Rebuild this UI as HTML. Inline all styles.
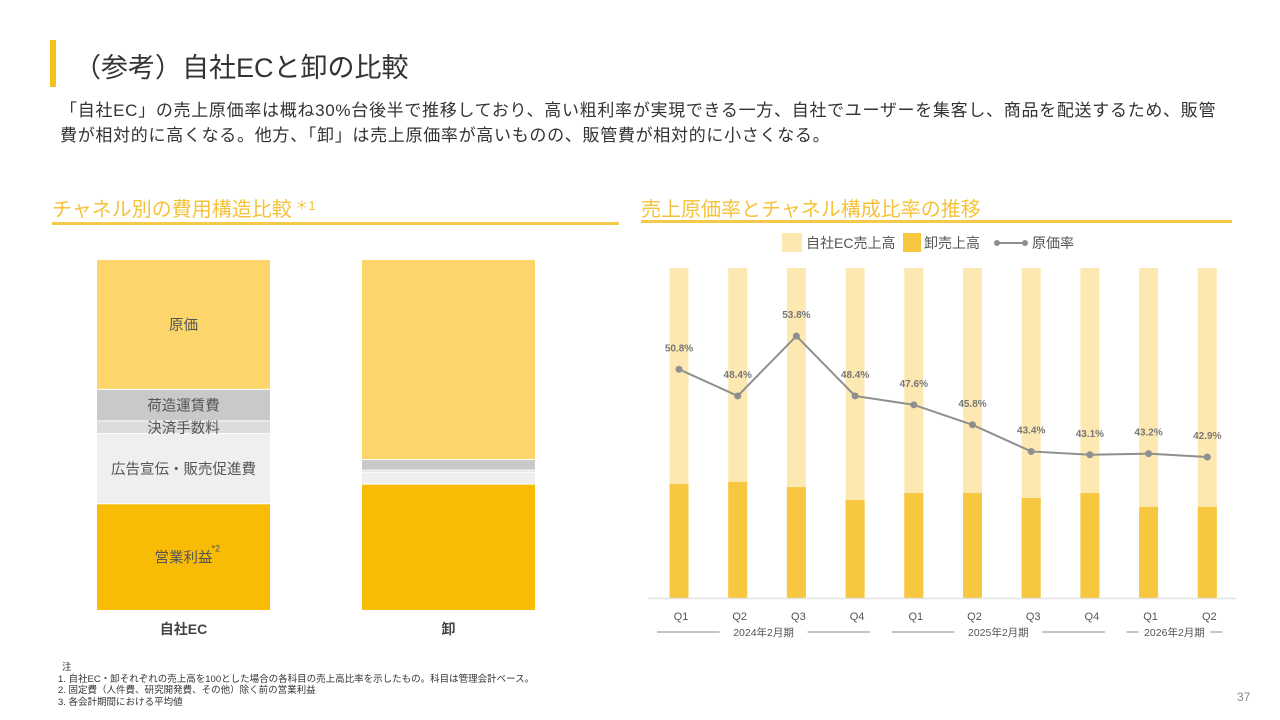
<!DOCTYPE html>
<html><head><meta charset="utf-8">
<style>
body{margin:0;width:1280px;height:720px;background:#fff;font-family:"Liberation Sans","Noto Sans CJK JP",sans-serif;color:#333;position:relative;overflow:hidden}
.abs{position:absolute}
</style></head><body>
<div class="abs" style="left:50px;top:40px;width:6px;height:47px;background:#F8C01B"></div>
<div class="abs" style="left:74px;top:46px;font-size:27px;color:#333">（参考）自社ECと卸の比較</div>
<div class="abs" style="left:60px;top:98px;font-size:17px;line-height:25px;color:#333;width:1200px;white-space:nowrap;letter-spacing:0.7px">「自社EC」の売上原価率は概ね30%台後半で推移しており、高い粗利率が実現できる一方、自社でユーザーを集客し、商品を配送するため、販管<br>費が相対的に高くなる。他方、「卸」は売上原価率が高いものの、販管費が相対的に小さくなる。</div>
<div class="abs" style="left:52px;top:193px;font-size:20px;color:#F5C23A">チャネル別の費用構造比較<span style="font-size:13px;vertical-align:6px"> ＊1</span></div>
<div class="abs" style="left:52px;top:222px;width:567px;height:3px;background:#F5C94A"></div>
<div class="abs" style="left:641px;top:193px;font-size:20px;color:#F5C23A">売上原価率とチャネル構成比率の推移</div>
<div class="abs" style="left:641px;top:220px;width:591px;height:3px;background:#F5C94A"></div>

<svg class="abs" style="left:0;top:0" width="1280" height="720" id="svg"></svg>

<div class="abs" style="left:58px;top:662px;font-size:9.5px;line-height:11.5px;color:#333">
<div style="padding-left:4px">注</div>
<div>1. 自社EC・卸それぞれの売上高を100とした場合の各科目の売上高比率を示したもの。科目は管理会計ベース。</div>
<div>2. 固定費（人件費、研究開発費、その他）除く前の営業利益</div>
<div>3. 各会計期間における平均値</div>
</div>
<div class="abs" style="left:1237px;top:690px;font-size:12px;color:#888">37</div>

<script>
const structCategories=["自社EC","卸"];
const structSegments=["原価","荷造運賃費","決済手数料","広告宣伝・販売促進費","営業利益"];
const structEC=[37,9,3.6,20,30.4];
const structWS=[57,3,0.6,3.4,36];
const segColors=["#FCD66A","#C9C9C9","#DCDCDC","#EFEFEF","#F8BC06"];

const quarters=["Q1","Q2","Q3","Q4","Q1","Q2","Q3","Q4","Q1","Q2"];
const wholesaleShare=[34.5,35.2,33.6,29.7,31.8,31.8,30.3,31.8,27.6,27.6];
const costRate=[50.8,48.4,53.8,48.4,47.6,45.8,43.4,43.1,43.2,42.9];
const costLabels=["50.8%","48.4%","53.8%","48.4%","47.6%","45.8%","43.4%","43.1%","43.2%","42.9%"];
const periods=[{label:"2024年2月期",from:0,to:3},{label:"2025年2月期",from:4,to:7},{label:"2026年2月期",from:8,to:9}];

const svg=document.getElementById('svg');
const NS="http://www.w3.org/2000/svg";
function mk(t,a,p){const e=document.createElementNS(NS,t);for(const k in a)e.setAttribute(k,a[k]);(p||svg).appendChild(e);return e;}

// left chart (stacked from top)
const lTop=260,lBot=611;
const lx=[97,362],lw=173;
[structEC,structWS].forEach((vals,ci)=>{
  let cum=0;
  vals.forEach((v,si)=>{
    const y0=lTop+cum/100*(lBot-lTop), h=v/100*(lBot-lTop);
    const r=mk('rect',{x:lx[ci],y:y0,width:lw,height:Math.max(h-1,0.5),fill:segColors[si]});
    
    
    if(ci===0){
      const t=mk('text',{x:lx[ci]+lw/2,y:y0+h/2+5,'text-anchor':'middle','font-size':14.5,fill:'#555'});
      t.textContent=structSegments[si];
      
      
      if(si===4){const s=mk('text',{x:lx[ci]+lw/2+28,y:y0+h/2-6,'font-size':9,fill:'#555'});s.textContent='*2';
        
        }
    }
    cum+=v;
  });
  const t=mk('text',{x:lx[ci]+lw/2,y:634,'text-anchor':'middle','font-size':14,'font-weight':'bold',fill:'#444'});
  t.textContent=structCategories[ci];
  
  
});

// right chart
const pTop=268,pBot=598,bw=19;
const bx=i=>679+i*58.7;
const by=v=>pBot-v/100*(pBot-pTop);
const ry=v=>336+(53.8-v)*11.1;
quarters.forEach((q,i)=>{
  const a=mk('rect',{x:bx(i)-bw/2,y:pTop,width:bw,height:pBot-pTop,fill:'#FDE8B2'});
  
  
  const b=mk('rect',{x:bx(i)-bw/2,y:by(wholesaleShare[i]),width:bw,height:pBot-by(wholesaleShare[i]),fill:'#F7C740'});
  
  
  const t=mk('text',{x:bx(i)+2,y:620,'text-anchor':'middle','font-size':11,fill:'#555'});
  t.textContent=q;
  
  
});
const ax=mk('line',{x1:648,x2:1236,y1:598.5,y2:598.5,stroke:'#e3e3e3','stroke-width':1.5});


const pl=mk('polyline',{points:costRate.map((v,i)=>bx(i)+','+ry(v)).join(' '),fill:'none',stroke:'#8f8f8f','stroke-width':2});


costRate.forEach((v,i)=>{
  const c=mk('circle',{cx:bx(i),cy:ry(v),r:3.5,fill:'#8f8f8f'});
  
  
  const t=mk('text',{x:bx(i),y:ry(v)-18,'text-anchor':'middle','font-size':10,'font-weight':'bold',fill:'#777'});
  t.textContent=costLabels[i];
  
  
});
periods.forEach(p=>{
  const x1=bx(p.from)-22,x2=bx(p.to)+15,cx=(x1+x2)/2;
  const half=p.to-p.from>1?44:36;
  const l1=mk('line',{x1:x1,x2:cx-half,y1:632,y2:632,stroke:'#888'});
  
  
  const l2=mk('line',{x1:cx+half,x2:x2,y1:632,y2:632,stroke:'#888'});
  
  
  const t=mk('text',{x:cx,y:636,'text-anchor':'middle','font-size':10.5,fill:'#555'});
  t.textContent=p.label;
  
  
});
// legend
const lg1=mk('rect',{x:782,y:233,width:20,height:19,fill:'#FDE8B2'});


const lt1=mk('text',{x:806,y:248,'font-size':14,fill:'#555'});lt1.textContent='自社EC売上高';


const lg2=mk('rect',{x:903,y:233,width:18,height:19,fill:'#F7C740'});


const lt2=mk('text',{x:924,y:248,'font-size':14,fill:'#555'});lt2.textContent='卸売上高';


const ll=mk('line',{x1:997,x2:1025,y1:243,y2:243,stroke:'#8f8f8f','stroke-width':2});


[997,1025].forEach(x=>{const c=mk('circle',{cx:x,cy:243,r:3,fill:'#8f8f8f'});
  
  });
const lt3=mk('text',{x:1032,y:248,'font-size':14,fill:'#555'});lt3.textContent='原価率';


</script>
</body></html>
